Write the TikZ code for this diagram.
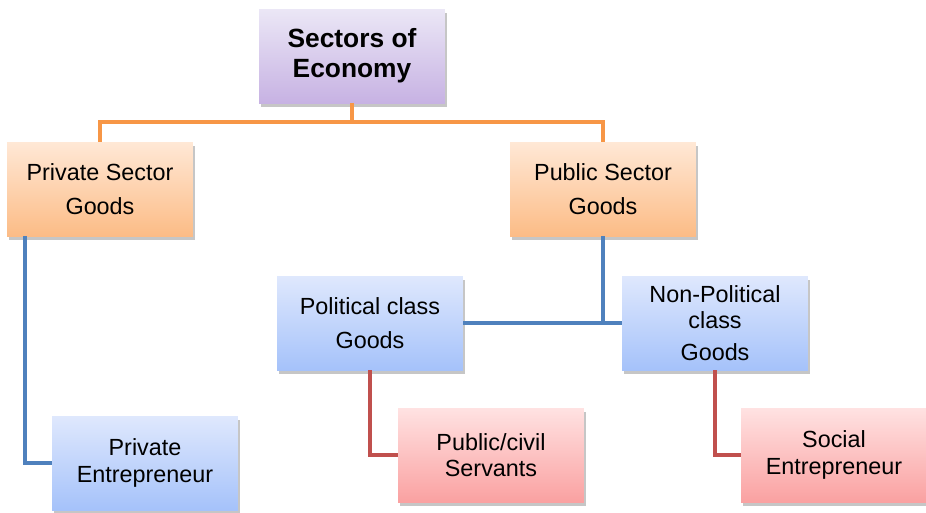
\documentclass[tikz,border=0pt]{standalone}
\usepackage{fontspec}
\setmainfont{Liberation Sans}
\usetikzlibrary{positioning,shadows}

\definecolor{topA}{HTML}{EBE7F6}
\definecolor{topB}{HTML}{C7B2E3}
\definecolor{orA}{HTML}{FFE8D6}
\definecolor{orB}{HTML}{FCBC86}
\definecolor{blA}{HTML}{DFE8FD}
\definecolor{blB}{HTML}{A5C2FA}
\definecolor{rdA}{HTML}{FFE2E2}
\definecolor{rdB}{HTML}{FAA1A1}
\definecolor{orLine}{HTML}{F79646}
\definecolor{blLine}{HTML}{4F81BD}
\definecolor{rdLine}{HTML}{C0504D}

\begin{document}
\begin{tikzpicture}[
    x=0.02cm, y=-0.02cm,
    box/.style={rectangle,minimum width=3.72cm,minimum height=1.88cm,align=center,
        font=\fontsize{13.3}{15}\selectfont,
        drop shadow={shadow xshift=1pt,shadow yshift=-2pt,opacity=0.45,fill=gray}},
    topbox/.style={box,top color=topA,bottom color=topB,font=\fontsize{15}{17}\selectfont\bfseries},
    orbox/.style={box,top color=orA,bottom color=orB},
    blbox/.style={box,top color=blA,bottom color=blB},
    rdbox/.style={box,top color=rdA,bottom color=rdB},
    orarrow/.style={orLine,line width=2.2pt},
    blarrow/.style={blLine,line width=2.2pt},
    rdarrow/.style={rdLine,line width=2.2pt}
]
    \useasboundingbox (0,0) rectangle (926,512);

    \node[topbox] (sect) at (352,56) {Sectors of\\Economy};
    \node[orbox] (priv) at (100,189) {Private Sector\\[4pt]Goods};
    \node[orbox] (pub) at (603,189) {Public Sector\\[4pt]Goods};
    \node[blbox] (polit) at (370,323) {Political class\\[4pt]Goods};
    \node[blbox] (nonpol) at (715,323) {Non-Political\\class\\[3pt]Goods};
    \node[blbox] (pent) at (145,463) {Private\\Entrepreneur};
    \node[rdbox] (serv) at (491,455) {Public/civil\\Servants};
    \node[rdbox] (soc) at (834,455) {Social\\Entrepreneur};

    \coordinate (pk) at ([xshift=0.36cm]priv.south west);

    \draw[orarrow] (sect.south) -- ++(0,19) -| (priv.north);
    \draw[orarrow] (sect.south) -- ++(0,19) -| (pub.north);
    \draw[blarrow] (pk) |- (pent.west);
    \draw[blarrow] (polit.east) -- (nonpol.west);
    \draw[blarrow] (pub.south) -- (pub.south |- polit.east);
    \draw[rdarrow] (polit.south) |- (serv.west);
    \draw[rdarrow] (nonpol.south) |- (soc.west);
\end{tikzpicture}
\end{document}
